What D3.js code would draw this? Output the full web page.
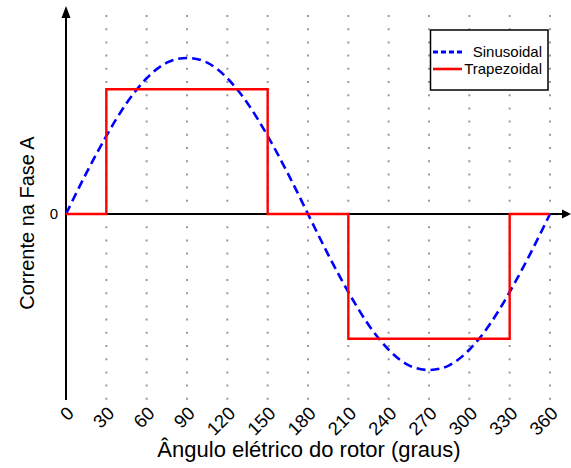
<!DOCTYPE html>
<html>
<head>
<meta charset="utf-8">
<script src="https://cdn.jsdelivr.net/npm/d3@7"></script>
<style>
  body { margin: 0; background: #fff; }
  svg { font-family: "Liberation Sans", Arial, sans-serif; }
</style>
</head>
<body>
<svg id="chart" width="571" height="468"></svg>
<script>
// angles (graus) and the values
var angles = [0, 15, 30, 45, 60, 75, 90, 105, 120, 135, 150, 165, 180,
              195, 210, 225, 240, 255, 270, 285, 300, 315, 330, 345, 360];
var sinusoidal = [0, 0.26, 0.5, 0.71, 0.87, 0.97, 1, 0.97, 0.87, 0.71, 0.5, 0.26, 0,
                  -0.26, -0.5, -0.71, -0.87, -0.97, -1, -0.97, -0.87, -0.71, -0.5, -0.26, 0];
var trapAngles = [0, 30, 150, 210, 330, 360];
var trapezoidal = [0, 0.8, 0, -0.8, 0, 0];
var xTicks = [0, 30, 60, 90, 120, 150, 180, 210, 240, 270, 300, 330, 360];
var legendKeys = ["Sinusoidal", "Trapezoidal"];

var svg = d3.select("#chart");

var x = d3.scaleLinear().domain([0, 360]).range([66, 550]);
var y = d3.scaleLinear().domain([-1, 1]).range([370, 58]);

var axisTop = 6, axisBottom = 400, axisRight = 571;

// dotted grid
svg.append("g")
    .selectAll("line")
    .data(xTicks.slice(1))
    .enter().append("line")
    .attr("x1", function (d) { return x(d); })
    .attr("x2", function (d) { return x(d); })
    .attr("y1", 15)
    .attr("y2", axisBottom)
    .attr("stroke", "#999")
    .attr("stroke-width", 2)
    .attr("stroke-dasharray", "2,11.2");

// axes with arrow heads
svg.append("line")
    .attr("x1", x(0)).attr("x2", axisRight - 6)
    .attr("y1", y(0)).attr("y2", y(0))
    .attr("stroke", "#000").attr("stroke-width", 2);
svg.append("path")
    .attr("d", "M" + axisRight + "," + y(0) + "l-9,-4.5v9z")
    .attr("fill", "#000");
svg.append("line")
    .attr("x1", x(0)).attr("x2", x(0))
    .attr("y1", axisBottom).attr("y2", axisTop + 8)
    .attr("stroke", "#000").attr("stroke-width", 2);
svg.append("path")
    .attr("d", "M" + x(0) + "," + axisTop + "l-4.5,12h9z")
    .attr("fill", "#000");

// series
var sinLine = d3.line()
    .x(function (d, i) { return x(angles[i]); })
    .y(function (d) { return y(d); })
    .curve(d3.curveNatural);

svg.append("path")
    .datum(sinusoidal)
    .attr("d", sinLine)
    .attr("fill", "none")
    .attr("stroke", "#0000ff")
    .attr("stroke-width", 2.6)
    .attr("stroke-dasharray", "9,5");

var trapLine = d3.line()
    .x(function (d, i) { return x(trapAngles[i]); })
    .y(function (d) { return y(d); })
    .curve(d3.curveStepAfter);

svg.append("path")
    .datum(trapezoidal)
    .attr("d", trapLine)
    .attr("fill", "none")
    .attr("stroke", "#ff0000")
    .attr("stroke-width", 2.4);

// tick labels
var xAxis = svg.append("g")
    .attr("transform", "translate(0," + axisBottom + ")")
    .call(d3.axisBottom(x).tickValues(xTicks).tickSize(0).tickFormat(d3.format("d")));
xAxis.select(".domain").remove();
xAxis.selectAll(".tick text")
    .attr("y", 0)
    .attr("dy", "0.35em")
    .attr("text-anchor", "end")
    .attr("transform", "translate(4,10) rotate(-45)")
    .style("font-size", "18.5px")
    .style("font-family", "'Liberation Sans', Arial, sans-serif")
    .attr("fill", "#000");

var yAxis = svg.append("g")
    .attr("transform", "translate(" + x(0) + ",0)")
    .call(d3.axisLeft(y).tickValues([0]).tickSize(0).tickPadding(8).tickFormat(d3.format("d")));
yAxis.select(".domain").remove();
yAxis.selectAll(".tick text")
    .style("font-size", "15px")
    .style("font-family", "'Liberation Sans', Arial, sans-serif")
    .attr("fill", "#000");

// axis titles
svg.append("text")
    .attr("x", 309)
    .attr("y", 457)
    .attr("text-anchor", "middle")
    .attr("font-size", 22)
    .text("Ângulo elétrico do rotor (graus)");

svg.append("text")
    .attr("transform", "translate(34,223) rotate(-90)")
    .attr("text-anchor", "middle")
    .attr("font-size", 20)
    .text("Corrente na Fase A");

// legend
var legend = svg.append("g");
legend.append("rect")
    .attr("x", 430.5).attr("y", 30)
    .attr("width", 117.5).attr("height", 60)
    .attr("fill", "#fff")
    .attr("stroke", "#000")
    .attr("stroke-width", 1.5);

var legendItem = legend.selectAll("g")
    .data(legendKeys)
    .enter().append("g")
    .attr("transform", function (d, i) {
        return "translate(0," + (52 + i * 17) + ")";
    });

legendItem.append("line")
    .attr("x1", 433).attr("x2", 462)
    .attr("y1", 0).attr("y2", 0)
    .attr("stroke", function (d, i) { return i === 0 ? "#0000ff" : "#ff0000"; })
    .attr("stroke-width", function (d, i) { return i === 0 ? 3 : 2.6; })
    .attr("stroke-dasharray", function (d, i) { return i === 0 ? "5,3" : null; });

legendItem.append("text")
    .attr("x", 542)
    .attr("y", 0)
    .attr("dy", "0.35em")
    .attr("text-anchor", "end")
    .attr("font-size", 15)
    .text(function (d) { return d; });
</script>
</body>
</html>
